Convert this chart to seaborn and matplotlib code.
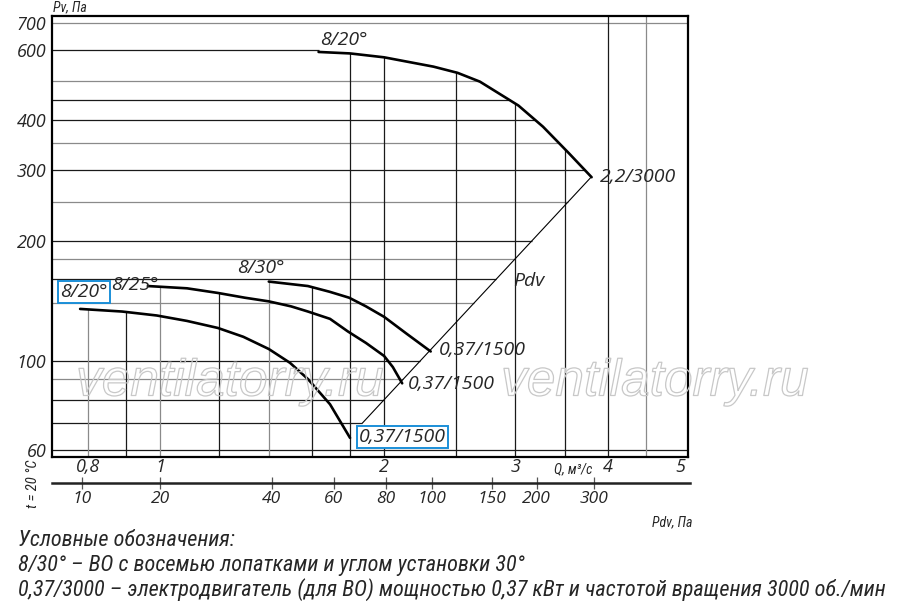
import numpy as np
import pandas as pd
import matplotlib
matplotlib.use('Agg')
import matplotlib.pyplot as plt
import matplotlib.patheffects as pe
import seaborn as sns

# Характеристики вентилятора (Q, м3/с ; Pv, Па)
q_820_big = [1.633, 1.80, 2.0, 2.33, 2.51, 2.69, 3.03, 3.27, 3.54, 3.80]
p_820_big = [592, 587, 574, 544, 525, 499, 435, 385, 331, 288]

q_820 = [0.781, 0.889, 0.99, 1.087, 1.196, 1.294, 1.40, 1.495, 1.581, 1.692, 1.80]
p_820 = [135, 133, 130, 126, 121, 115, 107.2, 99, 90.1, 78.0, 64.3]

q_825 = [0.963, 1.087, 1.196, 1.30, 1.40, 1.50, 1.58, 1.692, 1.788, 1.891, 2.0, 2.055, 2.115]
p_825 = [154, 152, 148, 144, 141, 137, 133, 127.5, 118.6, 111, 103, 96.6, 88]

q_830 = [1.40, 1.58, 1.69, 1.795, 1.891, 2.0, 2.145, 2.31]
p_830 = [158, 154, 149, 144, 137, 129, 117, 105.7]

# линия динамического давления Pdv
q_pdv = [1.87, 3.80]
p_pdv = [70, 289]

# сетка
h_grid = [60, 70, 80, 90, 100, 140, 160, 180, 200, 250, 300, 350, 400, 450, 500, 600, 700]
h_gray = [700, 500, 350, 250, 180, 140, 90]
v_grid = [0.8, 0.9, 1.0, 1.2, 1.4, 1.6, 1.8, 2.0, 2.5, 3.0, 3.5, 4.0, 4.5]
v_gray = [0.8, 1.0, 1.4, 4.5]

y_ticks = [60, 100, 200, 300, 400, 600, 700]
q_ticks = [0.8, 1, 2, 3, 4, 5]
q_labels = ['0,8', '1', '2', '3', '4', '5']
pdv_labels = ['10', '20', '40', '60', '80', '100', '150', '200', '300']
pdv_at_q = [0.786, 1.0, 1.41, 1.708, 2.005, 2.31, 2.78, 3.19, 3.81]

sns.set_theme(style='white')
num_font = ['Open Sans', 'DejaVu Sans']
narrow = ['Roboto Condensed', 'DejaVu Sans']
plt.rcParams['font.family'] = num_font

fig = plt.figure(figsize=(9, 6.07), dpi=100)
W, H = 900, 607
ax = fig.add_axes([52 / W, 1 - 457 / H, 636 / W, 441 / H])
ax.set_xscale('log')
ax.set_yscale('log')
xlim = (0.716, 5.12)
ylim = (57.6, 728)
ax.set_xlim(*xlim)
ax.set_ylim(*ylim)
ax.minorticks_off()
ax.grid(False)


def interp_log(x, xs, ys):
    xs = np.log(np.asarray(xs, float))
    ys = np.log(np.asarray(ys, float))
    order = np.argsort(xs)
    return float(np.exp(np.interp(np.log(x), xs[order], ys[order])))


lower = [(q_820, p_820), (q_825, p_825), (q_830, p_830)]

# горизонтальные линии сетки до огибающей
for p in h_grid:
    if p >= 700 or p <= 60:
        xe = xlim[1]
    elif p > p_820_big[0]:
        xe = q_820_big[0]
    elif p >= p_820_big[-1]:
        xe = interp_log(p, p_820_big, q_820_big)
    else:
        xe = interp_log(p, p_pdv, q_pdv)
    c = '#8a8a8a' if p in h_gray else '#1a1a1a'
    ax.hlines(p, xlim[0], xe, color=c, lw=0.9, zorder=1)

# вертикальные линии сетки до огибающей
for q in v_grid:
    if q > q_820_big[-1]:
        ye = ylim[1]
    elif q >= q_820_big[0]:
        ye = interp_log(q, q_820_big, p_820_big)
    else:
        ye = max(interp_log(q, qs, ps) for qs, ps in lower if qs[0] <= q <= qs[-1])
    c = '#8a8a8a' if q in v_gray else '#1a1a1a'
    ax.vlines(q, ylim[0], ye, color=c, lw=0.9, zorder=1)

curves = pd.concat([
    pd.DataFrame({'Q': q_820_big, 'P': p_820_big, 'name': 'big'}),
    pd.DataFrame({'Q': q_820, 'P': p_820, 'name': '820'}),
    pd.DataFrame({'Q': q_825, 'P': p_825, 'name': '825'}),
    pd.DataFrame({'Q': q_830, 'P': p_830, 'name': '830'}),
])
sns.lineplot(data=curves, x='Q', y='P', units='name', estimator=None, sort=False,
             color='black', lw=1.9, ax=ax, zorder=3)
sns.lineplot(x=q_pdv, y=p_pdv, color='black', lw=0.8, ax=ax, zorder=2)

for s in ax.spines.values():
    s.set_linewidth(1.6)
    s.set_color('black')

ax.set_yticks(y_ticks, labels=[str(v) for v in y_ticks])
ax.set_xticks(q_ticks, labels=q_labels)
ax.tick_params(axis='y', length=0, pad=4, labelsize=13)
ax.tick_params(axis='x', length=0, pad=1, labelsize=13)
for t in ax.get_yticklabels() + ax.get_xticklabels():
    t.set_fontstyle('italic')
ax.set_xlabel('')
ax.set_ylabel('')

blue = '#1b8fd8'
lab = dict(fontsize=14, fontstyle='italic', textcoords='offset pixels')
ax.annotate('8/20°', (q_820_big[0], p_820_big[0]), xytext=(25, 12), ha='center', va='center', **lab)
ax.annotate('2,2/3000', (q_820_big[-1], p_820_big[-1]), xytext=(8, 0), ha='left', va='center', **lab)
ax.annotate('8/30°', (q_830[0], p_830[0]), xytext=(-8, 14), ha='center', va='center', **lab)
ax.annotate('8/25°', (q_825[0], p_825[0]), xytext=(-13, 1), ha='center', va='center', **lab)
ax.annotate('8/20°', (q_820[0], p_820[0]), xytext=(4, 17), ha='center', va='center',
            bbox=dict(boxstyle='square,pad=0.12', fc='white', ec=blue, lw=1.4), **lab)
ax.annotate('0,37/1500', (q_830[-1], p_830[-1]), xytext=(8, 1), ha='left', va='center', **lab)
ax.annotate('0,37/1500', (q_825[-1], p_825[-1]), xytext=(6, -1), ha='left', va='center', **lab)
ax.annotate('0,37/1500', (q_820[-1], p_820[-1]), xytext=(9, 1), ha='left', va='center',
            bbox=dict(boxstyle='square,pad=0.12', fc='white', ec=blue, lw=1.4), **lab)
ax.annotate('Pdv', (q_pdv[-1], p_pdv[-1]), xytext=(-63, -104), ha='center', va='center', **lab)

# водяной знак
for xc in (230, 655):
    fig.text(xc / W, 1 - 382 / H, 'ventilatorry.ru', fontsize=37, fontstyle='italic',
             family=['Liberation Sans', 'DejaVu Sans'], color='none', ha='center', va='center',
             path_effects=[pe.Stroke(linewidth=0.9, foreground='#c8c8c8')], zorder=5)

# шкала Pdv
ax2 = fig.add_axes([52 / W, 1 - 483 / H, 638 / W, 0.0001])
ax2.set_xscale('log')
ax2.set_xlim(*xlim)
ax2.set_yticks([])
ax2.minorticks_off()
for k in ('top', 'left', 'right'):
    ax2.spines[k].set_visible(False)
ax2.spines['bottom'].set_linewidth(1.8)
ax2.spines['bottom'].set_color('#222222')
ax2.set_xticks(pdv_at_q, labels=pdv_labels)
ax2.tick_params(axis='x', direction='inout', length=8, width=0.9, color='#555555',
                pad=2, labelsize=12.5, bottom=True)
for t in ax2.get_xticklabels():
    t.set_fontstyle('italic')

nt = dict(family=narrow, fontstyle='italic')
fig.text(70 / W, 1 - 7 / H, 'Pv, Па', fontsize=10, ha='center', va='center', **nt)
fig.text(573 / W, 1 - 469 / H, 'Q, м³/с', fontsize=10, ha='center', va='center', **nt)
fig.text(672 / W, 1 - 522 / H, 'Pdv, Па', fontsize=10, ha='center', va='center', **nt)
fig.text(33 / W, 1 - 484 / H, 't = 20 °C', fontsize=10.5, rotation=90, ha='center', va='center', **nt)

legend_lines = [
    'Условные обозначения:',
    '8/30° – ВО с восемью лопатками и углом установки 30°',
    '0,37/3000 – электродвигатель (для ВО) мощностью 0,37 кВт и частотой вращения 3000 об./мин',
]
for i, line in enumerate(legend_lines):
    fig.text(18 / W, 1 - (541 + 24.5 * i) / H, line, fontsize=16, ha='left', va='center', **nt)

fig.savefig('out.png', dpi=100)
